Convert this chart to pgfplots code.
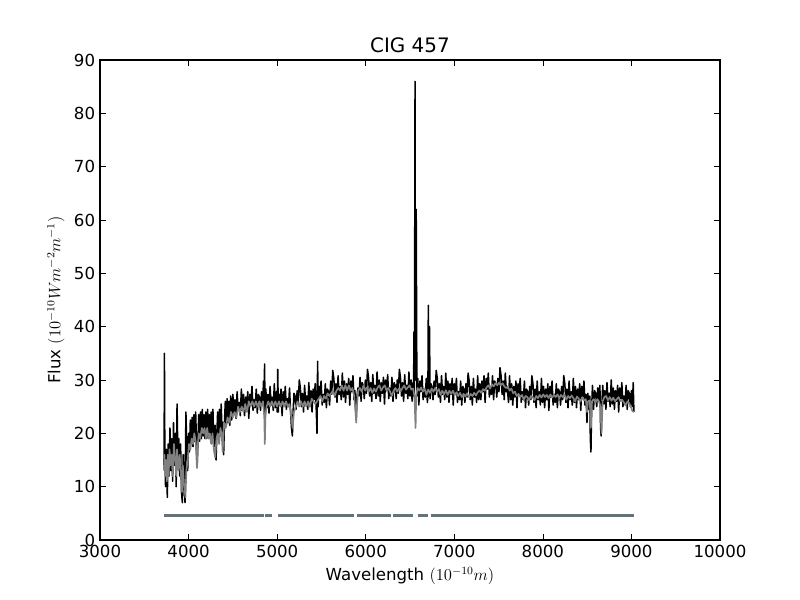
\documentclass[border=0pt]{standalone}
\usepackage{fontspec}
\setmainfont{DejaVu Sans}
\usepackage{pgfplots}
\pgfplotsset{compat=1.18}
\definecolor{maskc}{RGB}{101,115,120}
\definecolor{modc}{RGB}{128,128,128}
\begin{document}
\begin{tikzpicture}
\useasboundingbox (0,0) rectangle (8in,6in);
\begin{axis}[
  at={(1in,0.6in)}, anchor=south west,
  scale only axis, width=6.2in, height=4.8in,
  xmin=3000, xmax=10000, ymin=0, ymax=90,
  xtick={3000,4000,...,10000}, ytick={0,10,...,90},
  scaled x ticks=false, scaled y ticks=false,
  /pgf/number format/assume math mode=true,
  xticklabel style={/pgf/number format/1000 sep={}},
  tick label style={font=\fontsize{12}{14}\selectfont},
  label style={font=\fontsize{12}{14}\selectfont},
  tick align=inside, major tick length=4pt,
  every tick/.style={black, line width=0.5pt},
  axis line style={line width=0.8pt},
  title={CIG 457},
  title style={font=\fontsize{14.4}{17}\selectfont, yshift=-4pt},
  xlabel={Wavelength $(10^{-10} m)$},
  ylabel={Flux $(10^{-10} W m^{-2} m^{-1})$},
  unbounded coords=jump,
]
% observed spectrum
\addplot[black, line width=1.1pt, line join=round] coordinates {
(3722,14) (3725,20) (3727,35) (3729,29) (3732,16) (3740,10) (3750,17) (3760,8) (3770,18) (3780,12)
(3790,21) (3800,13) (3810,19) (3820,11) (3830,22) (3840,14) (3850,20) (3860,10) (3870,25.5) (3880,15)
(3890,19) (3900,12) (3910,18) (3920,9) (3930,7) (3940,16) (3950,11) (3960,7) (3970,24) (3980,17)
(3990,13) (4000,20) (4010,16.5) (4020,22.5) (4030,18) (4040,23) (4050,17.5) (4060,23.5) (4070,18.5) (4080,24)
(4090,18) (4097,14) (4105,18) (4115,23.5) (4125,18.5) (4135,24) (4145,19) (4155,24.5) (4165,19.5) (4175,23.5)
(4185,19) (4195,24) (4205,19) (4215,24.5) (4225,19.5) (4235,23.5) (4245,19) (4255,24) (4265,18.5) (4275,24.5)
(4285,17.5) (4300,21.5) (4310,15) (4318,19) (4328,24) (4338,19.5) (4348,24.5) (4358,20) (4368,25.5) (4378,20.5)
(4388,22) (4396,16) (4405,22) (4415,26) (4425,21.5) (4435,26.5) (4445,22) (4455,26) (4465,21.5) (4475,27)
(4487,22.5)
(4500,27.3) (4512,23.8) (4524,26.3) (4536,22.8) (4548,27.8) (4560,24.3) (4572,25.8) (4584,23.3) (4596,28.3) (4608,24.3)
(4620,27.3) (4632,23.3) (4644,26.8) (4656,24.8) (4668,27.8) (4680,22.8) (4692,27.3) (4704,25.8) (4716,28.8) (4728,24.3)
(4740,26.3) (4752,24.8) (4764,28.3) (4776,23.8) (4788,27.3) (4800,26.8) (4812,24.3) (4824,27.8) (4836,25.3) (4846,29.8)
(4852,24) (4858,33) (4864,23)
(4872,28.3) (4884,24.8) (4896,27.3) (4908,23.8) (4920,28.8) (4932,25.3) (4944,26.8) (4956,24.3) (4968,29.3) (4980,24.8)
(4992,27.8) (5001,24) (5007,32) (5013,24) (5020,27.3) (5032,25.3) (5044,28.3) (5056,23.3) (5068,27.8) (5080,25.8)
(5092,28.8) (5104,24.5) (5116,26.5) (5128,25) (5140,28.5) (5152,24) (5162,21) (5172,19.5) (5180,24) (5190,27.5)
(5202,27) (5214,24.5) (5226,28) (5238,25.5) (5250,30) (5262,28.5) (5274,25) (5286,27.5) (5298,24) (5310,29)
(5322,25.5) (5334,27) (5346,24.5) (5358,29.5) (5370,25) (5382,28) (5394,24) (5406,28.3) (5418,26.3) (5430,29.3)
(5442,24.3) (5450,20) (5457,33.5) (5463,25) (5472,28.8) (5484,26.8) (5496,29.8) (5508,25.3) (5520,27.3) (5532,25.8)
(5544,29.3) (5556,24.8) (5568,28.3) (5580,27.8) (5592,25.3) (5604,29.8) (5616,27.3) (5628,31.8) (5640,30.3) (5652,26.8)
(5664,29.3) (5676,25.8) (5688,30.8) (5700,27.3) (5712,28.8) (5724,26.3) (5736,31.3) (5748,26.8) (5760,29.8) (5772,25.8)
(5784,29.3) (5796,27.3) (5808,30.3) (5820,25.3) (5832,29.8) (5844,27.8) (5856,30.8) (5868,26.3) (5878,28) (5886,24.5)
(5893,23) (5902,27) (5912,28.5) (5924,27) (5936,30.5) (5948,26) (5960,29.5) (5972,29) (5984,26.5) (5996,30)
(6008,27.5) (6020,32) (6032,30.5) (6044,27) (6056,29.5) (6068,26) (6080,31) (6092,27.5) (6104,29) (6116,26.5)
(6128,31.5) (6140,27) (6152,30) (6164,26) (6176,29.5) (6188,27.5) (6200,30.5) (6212,25.5) (6224,30) (6236,28)
(6248,31) (6260,26.5) (6272,28.5) (6284,27) (6296,30.5) (6308,26) (6320,29.5) (6332,29) (6344,26.5) (6356,30)
(6368,27.5) (6380,32) (6392,30.5) (6404,27) (6416,29.5) (6428,26) (6440,31) (6452,27.5) (6464,29) (6476,26.5)
(6488,31.5) (6500,27) (6512,30) (6524,26) (6534,29.5) (6540,27) (6545,39) (6550,27) (6557,86) (6562,30)
(6570,62) (6578,27) (6588,30.3) (6600,25.3) (6612,29.8) (6624,27.8) (6636,30.8) (6648,26.3) (6660,28.3) (6672,26.8)
(6684,30.3) (6696,25.8) (6702,27) (6707,44) (6712,27) (6720,40) (6727,26.5) (6736,29.3) (6748,28.8) (6760,26.3)
(6772,29.8) (6784,27.3) (6796,31.8) (6808,30.3) (6820,26.8) (6832,29.3) (6844,25.8) (6856,30.8) (6868,27.3) (6880,28.8)
(6892,26.3) (6904,31.3) (6916,26.8) (6928,29.8) (6940,25.8) (6952,29.3) (6964,27.3) (6976,30.3) (6988,25.3) (7000,29.3)
(7012,27.3) (7024,30.3) (7036,25.8) (7048,27.8) (7060,26.3) (7072,29.8) (7084,25.3) (7096,28.8) (7108,28.3) (7120,25.8)
(7132,29.3) (7144,26.8) (7156,31.3) (7168,29.8) (7180,26.3) (7192,28.8) (7204,25.3) (7216,30.3) (7228,26.8) (7240,28.3)
(7252,25.8) (7264,30.8) (7276,26.3) (7288,29.3) (7300,26.3) (7312,29.8) (7324,27.8) (7336,30.8) (7348,25.8) (7360,30.3)
(7372,28.3) (7384,31.3) (7396,26.8) (7408,28.8) (7420,27.3) (7432,30.8) (7444,26.3) (7456,29.8) (7468,29.3) (7480,26.8)
(7492,30.3) (7504,27.8) (7516,32.3) (7528,30.8) (7540,27.3) (7552,29.8) (7564,26.3) (7576,31.3) (7588,27.8) (7600,28.3)
(7612,25.8) (7624,30.8) (7636,26.3) (7648,29.3) (7660,25.3) (7672,28.8) (7684,26.8) (7696,29.8) (7708,24.8) (7720,29.3)
(7732,27.3) (7744,30.3) (7756,25.8) (7768,27.8) (7780,26.3) (7792,29.8) (7804,24.8) (7816,28.3) (7828,27.8) (7840,25.3)
(7852,28.8) (7864,26.3) (7876,30.8) (7888,29.3) (7900,25.8) (7912,28.3) (7924,24.8) (7936,29.8) (7948,26.3) (7960,27.8)
(7972,25.3) (7984,30.3) (7996,25.8) (8008,28.8) (8020,24.8) (8032,28.3) (8044,26.3) (8056,29.3) (8068,24.3) (8080,28.8)
(8092,26.8) (8104,29.8) (8116,25.3) (8128,27.3) (8140,25.8) (8152,29.3) (8164,24.8) (8176,28.3) (8188,27.8) (8200,25.3)
(8212,28.8) (8224,26.3) (8236,30.8) (8248,29.3) (8260,25.8) (8272,28.3) (8284,24.8) (8296,29.8) (8308,26.3) (8320,27.8)
(8332,25.3) (8344,30.3) (8356,25.8) (8368,28.8) (8380,24.8) (8392,28.3) (8404,26.3) (8416,29.3) (8428,24.3) (8440,28.8)
(8452,26.8) (8464,29.8) (8476,25.3) (8488,27.3) (8498,22) (8508,27.5) (8520,24.5) (8530,27) (8536,19) (8543,16.5)
(8550,24) (8560,29) (8572,24.5) (8584,28) (8596,27.5) (8608,25) (8620,28.5) (8632,26) (8644,29) (8652,21)
(8658,19.5) (8665,25) (8676,29) (8688,25.5) (8700,28) (8712,24.5) (8724,29.5) (8736,26) (8748,27.5) (8760,25)
(8772,30) (8784,25.5) (8796,28.5) (8808,24.5) (8820,28) (8832,26) (8844,29) (8856,24) (8868,28.5) (8880,26.5)
(8892,29.5) (8904,25) (8916,27) (8928,25.5) (8940,29) (8952,24.5) (8964,28) (8976,27.5) (8988,25) (9000,28)
(9012,25) (9020,29.5) (9028,24)
};
% model spectrum
\addplot[modc, line width=1.2pt, line join=round] coordinates {
(3722,13) (3727,16) (3735,12) (3745,15) (3755,11) (3765,16) (3775,12) (3785,17) (3795,14) (3810,16)
(3820,12) (3835,18) (3850,15) (3860,12) (3870,17) (3885,13) (3900,16) (3915,12) (3925,9) (3935,14)
(3950,10) (3965,8) (3975,13) (3990,15) (4005,18) (4020,17) (4035,19) (4050,18) (4065,20) (4080,18.5)
(4095,13.5) (4105,18) (4115,20) (4130,19) (4150,21) (4165,20) (4180,21) (4195,19) (4210,21) (4225,19)
(4240,20) (4255,18) (4270,20) (4285,17) (4300,15.5) (4315,19) (4330,20) (4345,18) (4360,21) (4375,19.5)
(4385,16.5) (4400,22) (4420,21) (4440,23) (4460,22) (4480,24) (4500,23) (4520,24) (4540,23) (4560,25)
(4580,24) (4600,25) (4620,24) (4640,25.5) (4660,24) (4680,26) (4700,25) (4720,26) (4740,25) (4760,26)
(4780,25) (4800,26) (4820,25) (4840,26) (4855,23) (4861,18) (4867,23) (4880,25) (4900,26) (4920,25)
(4940,26) (4960,25) (4980,26) (5000,25) (5020,26) (5040,25) (5060,26) (5080,25) (5100,26) (5120,25)
(5140,25.5) (5160,23) (5175,21) (5190,24) (5210,25) (5230,26) (5250,25) (5270,26) (5290,25) (5310,26)
(5330,25) (5350,26) (5370,25) (5390,26.5) (5410,26) (5430,25.5) (5450,26) (5470,26.5) (5490,27) (5510,26)
(5530,27) (5550,26.5) (5570,27.5) (5590,27) (5610,27.5) (5630,28) (5650,27) (5670,28) (5690,28.5) (5710,28)
(5730,29) (5750,28) (5770,29) (5790,28) (5810,29) (5830,28) (5850,28.5) (5870,27) (5885,24) (5893,22)
(5900,25) (5915,28) (5935,28.5) (5955,27.8) (5975,29) (5995,28) (6015,28.6) (6035,27.8) (6055,28.5) (6075,27.6)
(6095,28.4) (6115,27.8) (6135,28.6) (6155,29) (6175,28) (6195,28.6) (6215,29) (6235,28) (6255,28.5) (6275,27.8)
(6295,27) (6315,28) (6335,28.5) (6355,27.8) (6375,28.4) (6395,27.9) (6415,28.5) (6435,29) (6455,28.2) (6475,28.6)
(6495,29) (6515,28.2) (6535,28.4) (6550,27) (6563,21) (6570,27) (6585,28.5) (6605,28) (6625,28.6) (6645,27.8)
(6665,28.4) (6685,27.2) (6705,28.2) (6725,27.6) (6745,28.4) (6765,27.8) (6785,28.5) (6805,27.8) (6825,28.3) (6845,27.2)
(6865,28) (6885,27.3) (6905,28.1) (6925,27.2) (6945,28) (6965,27.4) (6985,28) (7005,27.2) (7025,27.7) (7045,27)
(7065,27.6) (7085,26.8) (7105,27.4) (7125,26.9) (7145,27.5) (7165,26.8) (7185,27.4) (7205,27) (7225,27.6) (7245,27.1)
(7265,27.7) (7285,28) (7305,27.6) (7325,28.3) (7345,28) (7365,28.6) (7385,29) (7405,28.4) (7425,29.2) (7445,28.8)
(7465,29.4) (7485,29) (7505,29.5) (7525,29) (7545,29.4) (7565,28.8) (7585,28.5) (7605,28.8) (7625,28) (7645,28.4)
(7665,27.5) (7685,27.8) (7705,27) (7725,27.4) (7745,26.8) (7765,27.2) (7785,26.3) (7805,27) (7825,26.8) (7845,26.2)
(7865,27) (7885,26.8) (7905,26.2) (7925,27) (7945,26.6) (7965,27.2) (7985,26.7) (8005,27.3) (8025,26.8) (8045,27.2)
(8065,26.6) (8085,27.3) (8105,26.7) (8125,27.2) (8145,26.8) (8165,27.3) (8185,26.6) (8205,27.2) (8225,26.8) (8245,27.2)
(8265,26.3) (8285,27) (8305,26.6) (8325,27.1) (8345,26.6) (8365,26) (8385,26.9) (8405,26.5) (8425,26) (8445,26.8)
(8465,26.2) (8485,26.4) (8498,24) (8510,26) (8530,26.2) (8542,21) (8555,26) (8575,26.4) (8595,25.8) (8615,26.4)
(8635,25.9) (8650,25) (8662,20) (8675,26) (8695,26.8) (8715,27) (8735,26.2) (8755,26.8) (8775,26.1) (8795,26.7)
(8815,26) (8835,26.4) (8855,26.8) (8875,26) (8895,26.3) (8915,25.8) (8935,25.2) (8955,26) (8975,25.6) (8995,25)
(9010,24.2) (9028,24)
};
% mask
\addplot[maskc, line width=1.5pt] coordinates {
(3722,4.6) (4851,4.6) (4851,nan)
(4863,4.6) (4938,4.6) (4938,nan)
(5010,4.6) (5868,4.6) (5868,nan)
(5902,4.6) (6286,4.6) (6286,nan)
(6305,4.6) (6531,4.6) (6531,nan)
(6587,4.6) (6703,4.6) (6703,nan)
(6737,4.6) (9028,4.6)
};
\end{axis}
\end{tikzpicture}
\end{document}
